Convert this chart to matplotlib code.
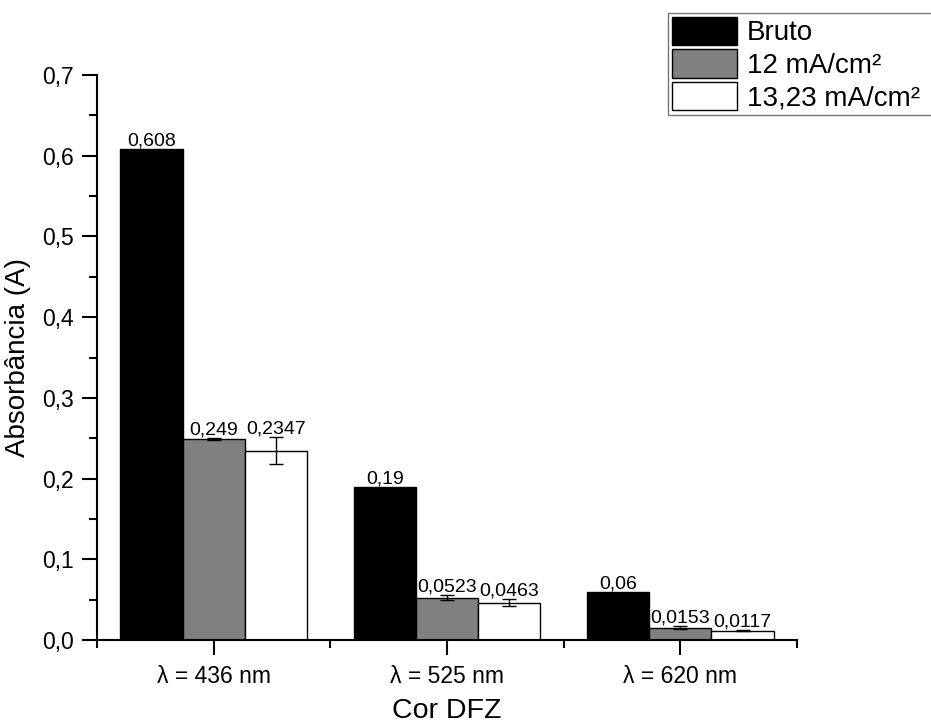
import numpy as np
import matplotlib.pyplot as plt
from matplotlib.ticker import MultipleLocator, FixedLocator

plt.rcParams['font.family'] = ['Liberation Sans', 'DejaVu Sans']

categories = ['λ = 436 nm', 'λ = 525 nm', 'λ = 620 nm']
series = ['Bruto', '12 mA/cm²', '13,23 mA/cm²']
bruto = [0.608, 0.19, 0.06]
i12 = [0.249, 0.0523, 0.0153]
i1323 = [0.2347, 0.0463, 0.0117]
err_bruto = [0.0, 0.0, 0.0]
err_i12 = [0.001, 0.003, 0.002]
err_i1323 = [0.0165, 0.004, 0.001]
labels_bruto = ['0,608', '0,19', '0,06']
labels_i12 = ['0,249', '0,0523', '0,0153']
labels_i1323 = ['0,2347', '0,0463', '0,0117']

values = [bruto, i12, i1323]
errors = [err_bruto, err_i12, err_i1323]
labels = [labels_bruto, labels_i12, labels_i1323]
colors = ['black', '#808080', 'white']

fig = plt.figure(figsize=(9.31, 7.24), dpi=100)
ax = fig.add_axes([97 / 931, 1 - 640 / 724, 700 / 931, 565 / 724])

x = np.arange(1, len(categories) + 1)
w = 0.8 / 3
for i in range(3):
    pos = x + (i - 1) * w
    ax.bar(pos, values[i], w, color=colors[i], edgecolor='black',
           linewidth=1, label=series[i], zorder=2)
    if any(e > 0 for e in errors[i]):
        ax.errorbar(pos, values[i], yerr=errors[i], fmt='none', ecolor='black',
                    elinewidth=1, capsize=5, capthick=1, zorder=3)
    # value printed just above the bar (or its error cap)
    for p, v, e, t in zip(pos, values[i], errors[i], labels[i]):
        ax.annotate(t, (p, v + e), xytext=(0, 2.5), textcoords='offset points',
                    ha='center', va='baseline', fontsize=14)

ax.set_xlim(0.5, 3.5)
ax.set_ylim(0, 0.7)
ax.set_xticks(x)
ax.set_xticklabels(categories)
ax.xaxis.set_minor_locator(FixedLocator([0.5, 1.5, 2.5, 3.5]))
ax.yaxis.set_major_locator(MultipleLocator(0.1))
ax.yaxis.set_minor_locator(MultipleLocator(0.05))
ax.yaxis.set_major_formatter(plt.FuncFormatter(lambda v, p: f'{v:.1f}'.replace('.', ',')))

for s in ['top', 'right']:
    ax.spines[s].set_visible(False)
for s in ['left', 'bottom']:
    ax.spines[s].set_linewidth(1.5)
ax.tick_params(which='major', length=11, width=1.5, labelsize=16.5)
ax.tick_params(which='minor', length=6, width=1.5)
ax.tick_params(axis='x', pad=7)
ax.tick_params(axis='y', pad=6)

ax.set_xlabel('Cor DFZ', fontsize=20.5, labelpad=7)
ax.set_ylabel('Absorbância (A)', fontsize=20, labelpad=8)

# legend box runs past the right edge of the figure
leg = ax.legend(loc='upper left',
                bbox_to_anchor=(668 / 931, 0, 300 / 931, 1 - 13 / 724),
                bbox_transform=fig.transFigure, mode='expand', fontsize=20,
                frameon=True, fancybox=False, edgecolor='#555555',
                handlelength=2.34, handleheight=1.19, handletextpad=0.35,
                labelspacing=0.11, borderpad=0.14, borderaxespad=0)
leg.get_frame().set_linewidth(1)

fig.savefig('out.png', dpi=100)
